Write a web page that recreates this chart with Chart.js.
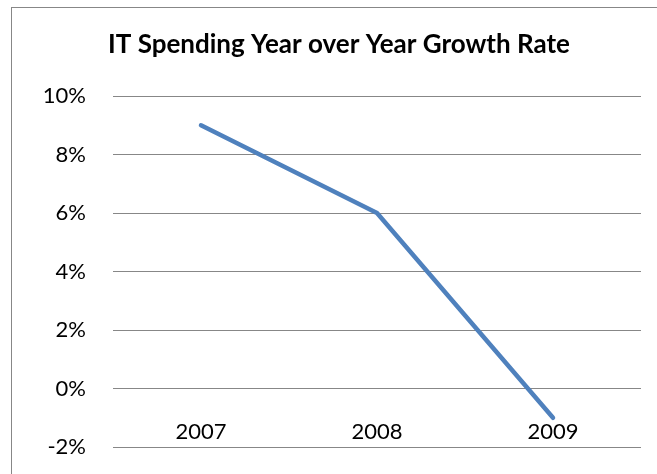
<!DOCTYPE html>
<html>
<head>
<meta charset="utf-8">
<script src="https://cdn.jsdelivr.net/npm/chart.js@4.4.1/dist/chart.umd.min.js"></script>
<style>
  html, body { margin: 0; padding: 0; background: #fff; overflow: hidden; }
  #wrap { position: relative; width: 657px; height: 474px; overflow: hidden; }
  #frame { position: absolute; left: 11px; top: 7px; width: 700px; height: 520px; border: 1px solid #878787; box-sizing: border-box; }
  #growthChart { position: absolute; left: 0; top: 0; }
</style>
</head>
<body>
<div id="wrap">
  <div id="frame"></div>
  <canvas id="growthChart" width="657" height="474"></canvas>
</div>
<script>
// --- DADOS ---
const years = ['2007', '2008', '2009'];
const growthRate = [9, 6, -1];
const yTicks = [-2, 0, 2, 4, 6, 8, 10];
const chartTitle = 'IT Spending Year over Year Growth Rate';

const FONT = 'Lato, "Open Sans", sans-serif';

// rótulos das categorias ficam logo abaixo da linha do 0%
const categoryLabels = {
  id: 'categoryLabels',
  afterDatasetsDraw(chart) {
    const { ctx, scales: { x, y } } = chart;
    const baseY = y.getPixelForValue(0) + 43;
    ctx.save();
    ctx.font = '22px ' + FONT;
    ctx.fillStyle = '#000';
    ctx.textAlign = 'center';
    ctx.textBaseline = 'middle';
    years.forEach((label, i) => {
      ctx.fillText(label, x.getPixelForValue(i), baseY);
    });
    ctx.restore();
  }
};

new Chart(document.getElementById('growthChart').getContext('2d'), {
  type: 'line',
  data: {
    labels: years,
    datasets: [{
      data: growthRate,
      borderColor: '#4F81BD',
      borderWidth: 4.5,
      borderCapStyle: 'round',
      borderJoinStyle: 'round',
      pointRadius: 0,
      tension: 0,
      fill: false
    }]
  },
  options: {
    responsive: false,
    animation: false,
    layout: { padding: { left: 37, right: 16, top: 0, bottom: 27 } },
    plugins: {
      legend: { display: false },
      tooltip: { enabled: false },
      title: {
        display: true,
        text: chartTitle,
        color: '#000',
        font: { family: FONT, size: 26, weight: 'bold' },
        padding: { top: 29.5, bottom: 35.3 }
      }
    },
    scales: {
      x: {
        display: false,
        offset: true
      },
      y: {
        min: yTicks[0],
        max: yTicks[yTicks.length - 1],
        afterFit: (scale) => {
          scale.width = 76;
          // o padding dos ticks não deve empurrar a área do gráfico
          scale.paddingTop = 0;
          scale.paddingBottom = 0;
        },
        afterBuildTicks: (scale) => { scale.ticks = yTicks.map(v => ({ value: v })); },
        border: { display: false },
        grid: { color: '#878787', lineWidth: 1, drawTicks: false },
        ticks: {
          color: '#000',
          padding: 27,
          font: { family: FONT, size: 22 },
          callback: (v) => v + '%'
        }
      }
    }
  },
  plugins: [categoryLabels]
});
</script>
</body>
</html>
